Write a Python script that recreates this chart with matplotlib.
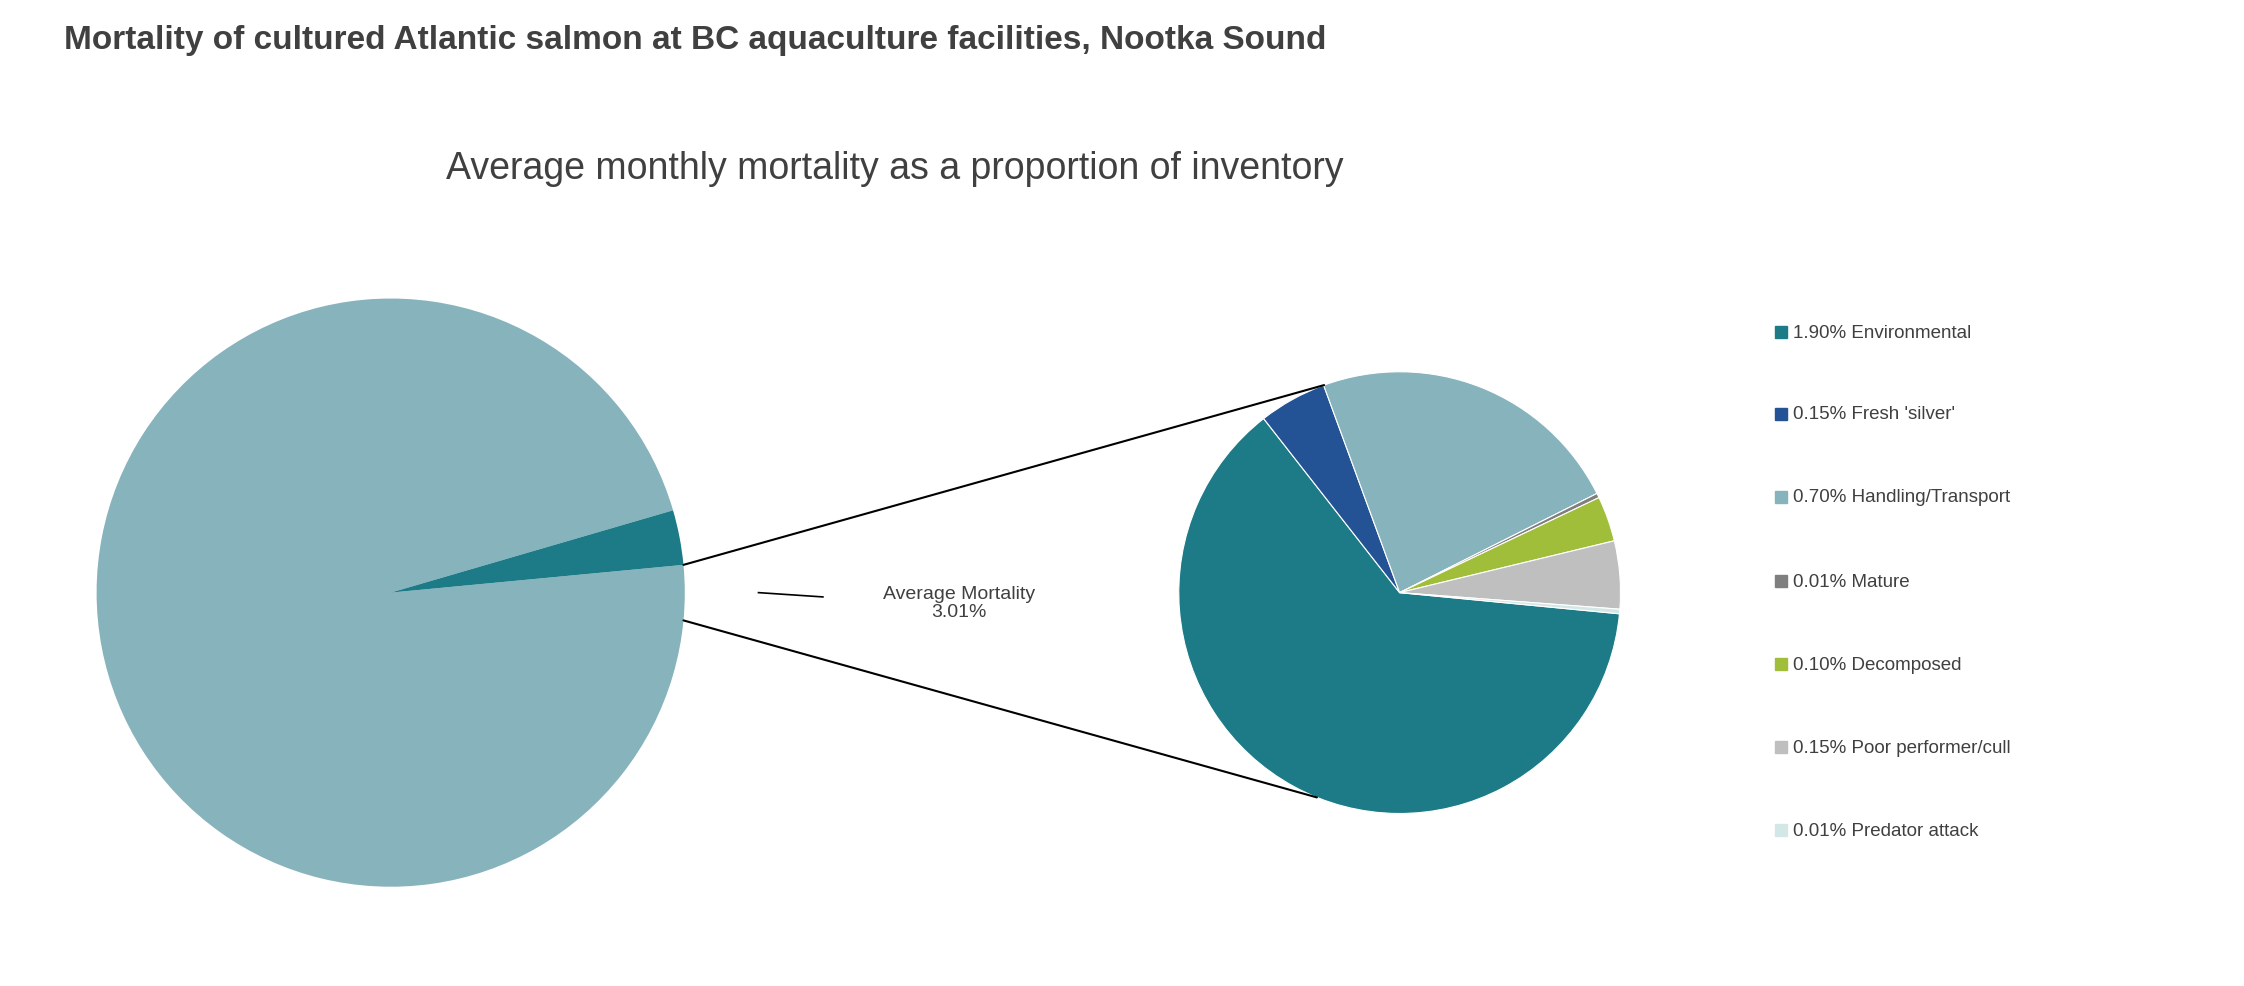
import matplotlib
matplotlib.use("Agg")
import matplotlib.pyplot as plt
from matplotlib.patches import ConnectionPatch, Rectangle
from matplotlib.lines import Line2D
import numpy as np

plt.rcParams['font.family'] = ['Liberation Sans', 'DejaVu Sans']

overall_labels = ["Other", "Average Mortality"]
overall_values = [96.99, 3.01]
overall_colors = ["#87B3BC", "#1D7B87"]

cause_labels = ["Environmental", "Fresh 'silver'", "Handling/Transport", "Mature",
                "Decomposed", "Poor performer/cull", "Predator attack"]
cause_values = [1.90, 0.15, 0.70, 0.01, 0.10, 0.15, 0.01]
cause_colors = ["#1D7B87", "#235395", "#87B3BC", "#7F7F7F", "#A0BE3A", "#BFBFBF", "#D3E8E6"]

W, H = 2244, 987
fig = plt.figure(figsize=(W/100, H/100), dpi=100)
dark = "#404040"

fig.text(45/1568, 1-28/690, "Mortality of cultured Atlantic salmon at BC aquaculture facilities, Nootka Sound",
         fontsize=24, fontweight='bold', color=dark, va='center', ha='left')
fig.text(625/1568, 1-118/690, "Average monthly mortality as a proportion of inventory",
         fontsize=27, color=dark, va='center', ha='center')

def pie_axes(cx, cy, r):
    rw = r * H / W
    ax = fig.add_axes([cx - rw, cy - r, 2*rw, 2*r])
    ax.set_xlim(-1, 1); ax.set_ylim(-1, 1); ax.set_aspect('equal'); ax.axis('off')
    return ax

ax1 = pie_axes(273/1568, 1-415/690, 257/690)
half = overall_values[1] / sum(overall_values) * 180
ax1.pie(overall_values, colors=overall_colors, startangle=half, counterclock=False, radius=1,
        wedgeprops=dict(linewidth=0))

ax2 = pie_axes(978/1568, 1-415/690, 193/690)
ax2.pie(cause_values, colors=cause_colors, startangle=-5.5, counterclock=False, radius=1,
        wedgeprops=dict(linewidth=0.8, edgecolor='white'))

a = np.deg2rad(half)
for sgn, ang in [(1, 110), (-1, 248)]:
    t = np.deg2rad(ang)
    con = ConnectionPatch(xyA=(np.cos(a), sgn*np.sin(a)), coordsA=ax1.transData,
                          xyB=(np.cos(t), np.sin(t)), coordsB=ax2.transData,
                          color='black', linewidth=1.5)
    fig.add_artist(con)

fig.add_artist(Line2D([530/1568, 575/1568], [1-415/690, 1-418/690], color='black',
                      linewidth=1.2, transform=fig.transFigure))
fig.text(670/1568, 1-422/690, "Average Mortality\n3.01%", ha='center', va='center',
         fontsize=14, color=dark, linespacing=1.1)

ys = [233, 290, 348, 407, 465, 523, 581]
for lab, v, c, y in zip(cause_labels, cause_values, cause_colors, ys):
    fy = 1 - y/690
    s = 0.0055
    fig.add_artist(Rectangle((1240/1568, fy - s*W/H/2), s, s*W/H, color=c, transform=fig.transFigure))
    fig.text(1253/1568, fy, f"{v:.2f}% {lab}", fontsize=13.5, color=dark, va='center', ha='left')

fig.savefig("out.png", dpi=100, facecolor='white')
